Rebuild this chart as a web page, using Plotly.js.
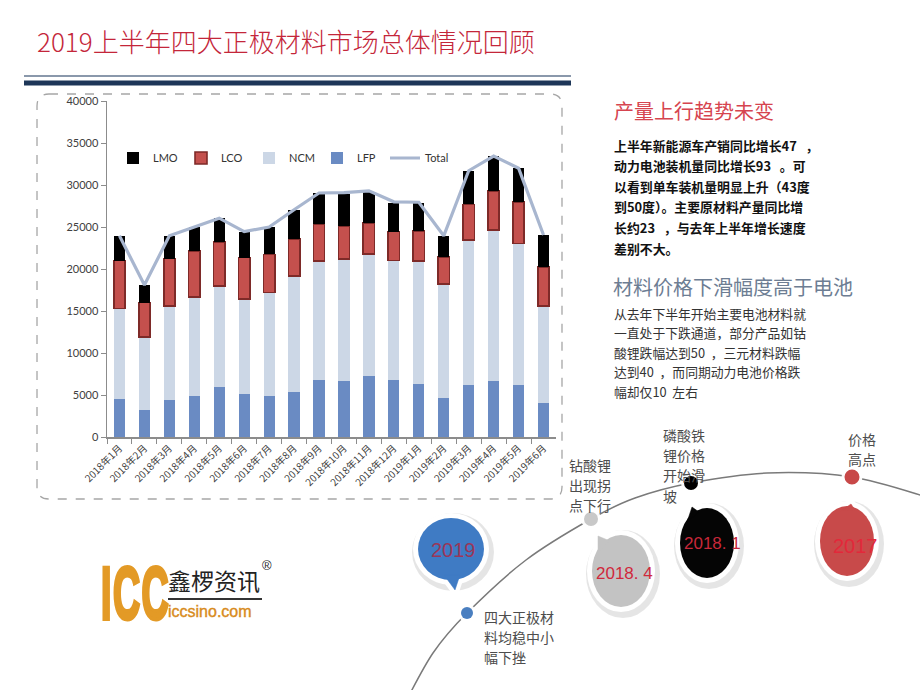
<!DOCTYPE html>
<html><head><meta charset="utf-8">
<script src="https://cdn.plot.ly/plotly-3.0.1.min.js"></script>
<style>
html,body{margin:0;padding:0;background:#fff;}
#wrap{position:relative;width:920px;height:690px;overflow:hidden;}
#chart{position:absolute;left:0;top:0;width:920px;height:690px;}
.lg{position:absolute;white-space:nowrap;}
</style></head><body>
<div id="wrap">
<div id="chart"></div>
<div class="lg" id="iccBig" style="left:101px;top:556px;font:bold 75px/75px 'Liberation Sans',Arial,sans-serif;color:#e39a26;transform:scaleX(0.5);transform-origin:0 0;-webkit-text-stroke:4px #e39a26;letter-spacing:3px;">ICC</div>
<div class="lg" style="left:168px;top:569px;font:23px/23px 'Noto Sans CJK SC',sans-serif;color:#222;">鑫椤资讯</div>
<div class="lg" style="left:262px;top:559px;font:13px/13px 'Liberation Sans',Arial,sans-serif;color:#222;">®</div>
<div class="lg" style="left:168px;top:598px;width:94px;height:1.5px;background:#333;"></div>
<div class="lg" style="left:168px;top:604px;font:16px/16px 'Liberation Sans',Arial,sans-serif;color:#d88b1c;-webkit-text-stroke:0.4px #d88b1c;">iccsino.com</div>
</div>
<script>
// ---------------- data ----------------
const months = ['2018年1月','2018年2月','2018年3月','2018年4月','2018年5月','2018年6月','2018年7月','2018年8月','2018年9月','2018年10月','2018年11月','2018年12月','2019年1月','2019年2月','2019年3月','2019年4月','2019年5月','2019年6月'];
const LFP = [4550,3200,4450,4900,5950,5100,4900,5400,6750,6700,7250,6750,6350,4700,6250,6700,6150,4100];
const NCM = [10750,8700,11150,11800,12000,11300,12300,13750,14200,14500,14550,14250,14600,13500,17200,17950,16900,11500];
const LCO = [5700,4100,5650,5450,5300,4950,4550,4450,4400,3950,3700,3450,3600,3250,4250,4650,4900,4650];
const LMO = [2900,2100,2700,2800,2800,3100,3200,3400,3650,3750,3700,3450,3250,2500,4000,4100,4050,3800];
const Total = [23950,18100,23950,24950,26050,24450,25000,27050,29050,29100,29300,28000,27950,23950,31700,33450,32000,24050];
const yTicks = [0,5000,10000,15000,20000,25000,30000,35000,40000];

const titleText = '2019上半年四大正极材料市场总体情况回顾';
const head1 = '产量上行趋势未变';
const para1 = ['上半年新能源车产销同比增长47\u00a0\u00a0\u00a0，','动力电池装机量同比增长93\u00a0\u00a0\u00a0。可','以看到单车装机量明显上升（43度','到50度）。主要原材料产量同比增','长约23\u00a0\u00a0\u00a0，与去年上半年增长速度','差别不大。'];
const head2 = '材料价格下滑幅度高于电池';
const para2 = ['从去年下半年开始主要电池材料就','一直处于下跌通道，部分产品如钴','酸锂跌幅达到50\u00a0\u00a0，三元材料跌幅','达到40\u00a0\u00a0，而同期动力电池价格跌','幅却仅10\u00a0\u00a0左右'];
const note2019 = ['四大正极材','料均稳中小','幅下挫'];
const noteLCO = ['钻酸锂','出现拐','点下行'];
const noteLFP = ['磷酸铁','锂价格','开始滑','坡'];
const notePeak = ['价格','高点'];
const bubbleLabels = ['2019','2018. 4','2018. 1','2017'];

// ---------------- helpers ----------------
const W = 920, H = 690;
const X = p => p / W, Y = p => 1 - p / H;
const P = (x, y) => X(x).toFixed(5) + ',' + Y(y).toFixed(5);
const CJK = "'Noto Sans CJK SC', sans-serif";
const shapes = [], ann = [];

function line(x0, y0, x1, y1, color, width, dash) {
  shapes.push({type:'line', xref:'paper', yref:'paper', x0:X(x0), y0:Y(y0), x1:X(x1), y1:Y(y1), line:{color, width, dash:dash||'solid'}});
}
function ell(cx, cy, rx, ry, fill) {
  shapes.push({type:'circle', xref:'paper', yref:'paper', x0:X(cx-rx), x1:X(cx+rx), y0:Y(cy+ry), y1:Y(cy-ry), fillcolor:fill, line:{width:0}});
}
function poly(pts, fill, lineColor, lw) {
  shapes.push({type:'path', xref:'paper', yref:'paper', path:'M' + pts.map(p => P(p[0], p[1])).join('L') + 'Z', fillcolor:fill, line:{color:lineColor||fill, width:lw||0}});
}
function txt(x, y, text, size, color, extra) {
  ann.push(Object.assign({xref:'paper', yref:'paper', x:X(x), y:Y(y), text, showarrow:false, xanchor:'left', yanchor:'middle', font:{size, color, family:CJK}}, extra||{}));
}
function lines(arr, x, y0, step, size, color, extra) {
  arr.forEach((t, i) => txt(x, y0 + i*step, t, size, color, extra));
}

// title + rules
txt(35, 41, titleText, 26, '#c4263a', {font:{size:26, color:'#c4263a', family:CJK, weight:300}});
line(24, 76, 571, 76, '#8a98ab', 2);
line(24, 83, 571, 83, '#1d3658', 5);

// dashed rounded frame
(function(){
  const x0=37, y0=94, x1=562, y1=499, r=12;
  const path = 'M'+P(x0+r,y0)+'L'+P(x1-r,y0)+'Q'+P(x1,y0)+' '+P(x1,y0+r)+'L'+P(x1,y1-r)+'Q'+P(x1,y1)+' '+P(x1-r,y1)+
    'L'+P(x0+r,y1)+'Q'+P(x0,y1)+' '+P(x0,y1-r)+'L'+P(x0,y0+r)+'Q'+P(x0,y0)+' '+P(x0+r,y0)+'Z';
  shapes.push({type:'path', xref:'paper', yref:'paper', path, line:{color:'#a6a6a6', width:1.3, dash:'dash'}});
})();

// right text
txt(612, 110, head1, 20, '#d6444f');
lines(para1, 612, 145, 20.6, 12.9, '#111', {font:{size:12.9, color:'#111', family:CJK, weight:700}});
txt(611, 286, head2, 20, '#6d7d93');
lines(para2, 612, 313, 19.5, 12.8, '#333');

// timeline curve (Catmull-Rom through reference points)
(function(){
  const pts = [[404,705],[433,653],[467,613],[526,560],[591,519],[635,498],[691,483],[767,473],[852,477],[930,498]];
  let d = 'M' + P(pts[0][0], pts[0][1]);
  for (let i = 0; i < pts.length - 1; i++) {
    const p0 = pts[Math.max(0,i-1)], p1 = pts[i], p2 = pts[i+1], p3 = pts[Math.min(pts.length-1,i+2)];
    const c1 = [p1[0] + (p2[0]-p0[0])/6, p1[1] + (p2[1]-p0[1])/6];
    const c2 = [p2[0] - (p3[0]-p1[0])/6, p2[1] - (p3[1]-p1[1])/6];
    d += 'C' + P(c1[0],c1[1]) + ' ' + P(c2[0],c2[1]) + ' ' + P(p2[0],p2[1]);
  }
  shapes.push({type:'path', xref:'paper', yref:'paper', path:d, line:{color:'#7a7a7a', width:1.5}});
})();

// speech bubbles
function bubble(cx, cy, rx, ry, color, tail) {
  ell(cx+2, cy+3, rx+8, ry+8, 'rgba(0,0,0,0.10)');
  poly(tail, '#ffffff', '#ffffff', 9);
  ell(cx, cy, rx+5, ry+5, '#ffffff');
  ell(cx, cy, rx, ry, color);
  poly(tail, color, color, 0.5);
}
bubble(451, 549, 33, 31, '#3f7bc4', [[444,575],[460,575],[455,590]]);
bubble(621, 571, 29, 36, '#c3c3c3', [[598,552],[610,541],[598,536]]);
bubble(707, 543, 27, 35, '#050505', [[687,522],[699,512],[692,507]]);
bubble(847, 541, 27, 35, '#c84a4a', [[841,511],[855,510],[851,504]]);

const NUMF = "'Liberation Sans', Arial, sans-serif";
txt(453, 550, bubbleLabels[0], 20, '#9b3659', {xanchor:'center', font:{size:20, color:'#9b3659', family:NUMF}});
txt(624, 573, bubbleLabels[1], 17, '#d0283c', {xanchor:'center', font:{size:17, color:'#d0283c', family:NUMF}});
txt(712, 543, bubbleLabels[2], 17, '#c8283a', {xanchor:'center', font:{size:17, color:'#c8283a', family:NUMF}});
txt(855, 546, bubbleLabels[3], 20, '#e3283a', {xanchor:'center', font:{size:20, color:'#e3283a', family:NUMF}});

// timeline dots
function dot(cx, cy, r, color) { ell(cx, cy, r+3, r+3, 'rgba(255,255,255,0.95)'); ell(cx, cy, r, r, color); }
dot(467, 613, 6, '#4a7fc0');
dot(591, 519, 7, '#c8c8c8');
dot(691, 483, 7, '#000000');
dot(852, 477, 7.5, '#c84848');

// timeline notes
lines(note2019, 482, 617, 20.2, 14, '#4d4d4d');
lines(noteLCO, 567, 465, 20.2, 14, '#4d4d4d');
lines(noteLFP, 661, 435, 20.2, 14, '#4d4d4d');
lines(notePeak, 846, 439, 20.2, 14, '#4d4d4d');

// ---------------- traces ----------------
const traces = [
  {type:'bar', name:'LFP', x:months, y:LFP, marker:{color:'#6a8bc3'}, legendrank:4},
  {type:'bar', name:'NCM', x:months, y:NCM, marker:{color:'#ccd7e6'}, legendrank:3},
  {type:'bar', name:'LCO', x:months, y:LCO, marker:{color:'#c4504d', line:{color:'#7e2a28', width:1.6}}, legendrank:2},
  {type:'bar', name:'LMO', x:months, y:LMO, marker:{color:'#000000'}, legendrank:1},
  {type:'scatter', mode:'lines', name:'Total', x:months, y:Total, line:{color:'#a8b6cf', width:3.2}, legendrank:5}
];

const layout = {
  width: W, height: H,
  margin: {l:0, r:0, t:0, b:0},
  paper_bgcolor: '#fff', plot_bgcolor: '#fff',
  barmode: 'stack', bargap: 0.55,
  font: {family: CJK, color: '#333'},
  xaxis: {domain:[X(107), X(556)], type:'category', showline:true, linecolor:'#8c8c8c', linewidth:1.5,
          ticks:'outside', tickson:'boundaries', ticklen:5, tickcolor:'#8c8c8c', tickangle:-45,
          tickfont:{size:10, color:'#404040', family:CJK}, showgrid:false, zeroline:false, fixedrange:true},
  yaxis: {domain:[1-437/H, 1-101/H], range:[0,40000], tickvals:yTicks, tickformat:'d', showline:true, linecolor:'#8c8c8c', linewidth:1.5,
          ticks:'outside', ticklen:5, tickcolor:'#8c8c8c', tickfont:{size:11, color:'#404040', family:"Lato, 'Open Sans', sans-serif"},
          showgrid:false, zeroline:false, fixedrange:true},
  legend: {orientation:'h', traceorder:'normal', x:X(113), y:Y(158), xanchor:'left', yanchor:'middle', bgcolor:'rgba(0,0,0,0)',
           font:{size:11, color:'#333', family:"Lato, 'Open Sans', sans-serif"}, entrywidth:23, entrywidthmode:'pixels', itemwidth:30},
  showlegend: true,
  shapes: shapes,
  annotations: ann
};

Plotly.newPlot('chart', traces, layout, {displayModeBar:false, staticPlot:true});
</script>
</body></html>
